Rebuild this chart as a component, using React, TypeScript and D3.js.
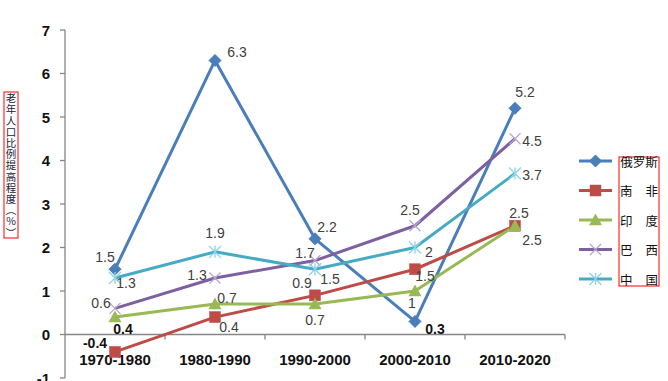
import React from "react";
import * as d3 from "d3";

const categories = ["1970-1980", "1980-1990", "1990-2000", "2000-2010", "2010-2020"];
const seriesNames = ["俄罗斯", "南非", "印度", "巴西", "中国"];
const legendLabels = [["俄罗斯"], ["南", "非"], ["印", "度"], ["巴", "西"], ["中", "国"]];
const russia = [1.5, 6.3, 2.2, 0.3, 5.2];
const southAfrica = [-0.4, 0.4, 0.9, 1.5, 2.5];
const india = [0.4, 0.7, 0.7, 1, 2.5];
const brazil = [0.6, 1.3, 1.7, 2.5, 4.5];
const china = [1.3, 1.9, 1.5, 2, 3.7];
const yTicks = [-1, 0, 1, 2, 3, 4, 5, 6, 7];
const yTitle = "老年人口比例提高程度︵%︶";

const seriesValues = [russia, southAfrica, india, brazil, china];
const colors = ["#4A7EBB", "#BE4B48", "#98B954", "#7D60A0", "#46AAC5"];
const markers = ["diamond", "square", "triangle", "x", "star"];

// label offsets [dx, dy, bold]
const labelOffsets: [number, number, boolean][][] = [
  [[-10, -12, false], [22, -8, false], [12, -12, false], [20, 8, true], [10, -16, false]],
  [[-20, -9, true], [14, 10, false], [-13, -12, false], [10, 7, false], [4, -13, false]],
  [[8, 12, true], [12, -6, false], [0, 16, false], [-3, 12, false], [17, 14, false]],
  [[-14, -5, false], [-18, -3, false], [-10, -8, false], [-5, -16, false], [17, 2, false]],
  [[11, 5, false], [0, -19, false], [15, 10, false], [14, 4, false], [17, 1, false]],
];

function Marker({ type, x, y, color }: { type: string; x: number; y: number; color: string }) {
  if (type === "diamond") {
    const s = 6;
    return <path d={`M${x},${y - s}L${x + s},${y}L${x},${y + s}L${x - s},${y}Z`} fill={color} stroke={color} strokeWidth={1} />;
  }
  if (type === "square") {
    const s = 5.5;
    return <rect x={x - s} y={y - s} width={2 * s} height={2 * s} fill={color} stroke="#c0504d" strokeWidth={0.5} />;
  }
  if (type === "triangle") {
    const s = 6.5;
    return <path d={`M${x},${y - s}L${x + s},${y + s * 0.8}L${x - s},${y + s * 0.8}Z`} fill={color} />;
  }
  if (type === "x") {
    const s = 5.5;
    return (
      <path d={`M${x - s},${y - s}L${x + s},${y + s}M${x - s},${y + s}L${x + s},${y - s}`} stroke="#B8A6D0" strokeWidth={1.3} fill="none" />
    );
  }
  const s = 6;
  return (
    <path
      d={`M${x - s},${y - s}L${x + s},${y + s}M${x - s},${y + s}L${x + s},${y - s}M${x},${y - s}L${x},${y + s}`}
      stroke="#8ED3E6"
      strokeWidth={1.3}
      fill="none"
    />
  );
}

export default function App() {
  const W = 668;
  const H = 381;
  const x = d3.scaleBand<string>().domain(categories).range([65, 565]);
  const y = d3.scaleLinear().domain([-1, 7]).range([378, 30]);
  const cx = (c: string) => (x(c) as number) + x.bandwidth() / 2;
  const line = d3
    .line<number>()
    .x((_, i) => cx(categories[i]))
    .y((d) => y(d));
  const font = "'Liberation Sans', Arial, sans-serif";
  const y0 = y(0);
  const cjk = "'Noto Sans CJK SC', sans-serif";

  return (
    <svg width={W} height={H} style={{ position: "absolute", left: 0, top: 0, background: "#fff" }} fontFamily={font}>
      {/* Y axis */}
      <line x1={65} x2={65} y1={y(7)} y2={y(-1)} stroke="#868686" strokeWidth={1.3} />
      {yTicks.map((t) => (
        <g key={t}>
          <line x1={60} x2={65} y1={y(t)} y2={y(t)} stroke="#868686" strokeWidth={1.3} />
          <text x={50} y={y(t)} textAnchor="end" dominantBaseline="central" fontSize={15} fontWeight="bold" fill="#111">
            {t}
          </text>
        </g>
      ))}
      {/* X axis */}
      <line x1={65} x2={565} y1={y0} y2={y0} stroke="#868686" strokeWidth={1.3} />
      {categories.map((c) => (
        <line key={c} x1={(x(c) as number) + x.bandwidth()} x2={(x(c) as number) + x.bandwidth()} y1={y0} y2={y0 + 5} stroke="#868686" strokeWidth={1.3} />
      ))}
      {categories.map((c) => (
        <text key={c} x={cx(c)} y={359} textAnchor="middle" dominantBaseline="central" fontSize={15} fontWeight="bold" fill="#111">
          {c}
        </text>
      ))}
      {/* Lines */}
      {seriesValues.map((vals, si) => (
        <path key={si} d={line(vals) || ""} fill="none" stroke={colors[si]} strokeWidth={3} strokeLinejoin="round" />
      ))}
      {seriesValues.map((vals, si) =>
        vals.map((v, i) => <Marker key={`${si}-${i}`} type={markers[si]} x={cx(categories[i])} y={y(v)} color={colors[si]} />)
      )}
      {/* Data labels */}
      {seriesValues.map((vals, si) =>
        vals.map((v, i) => {
          const [dx, dy, bold] = labelOffsets[si][i];
          return (
            <text
              key={`l${si}-${i}`}
              x={cx(categories[i]) + dx}
              y={y(v) + dy}
              textAnchor="middle"
              dominantBaseline="central"
              fontSize={14}
              fontWeight={bold ? "bold" : "normal"}
              fill={bold ? "#111" : "#404040"}
            >
              {v}
            </text>
          );
        })
      )}
      {/* Y title */}
      <rect x={4} y={92} width={14} height={146} fill="none" stroke="#FF0000" strokeWidth={1} />
      <text
        x={11}
        y={93}
        fontSize={10.5}
        fill="#1a1a3a"
        fontFamily={cjk}
        style={{ writingMode: "vertical-rl", textOrientation: "upright", letterSpacing: "0.7px" } as React.CSSProperties}
      >
        {yTitle}
      </text>
      {/* Legend */}
      <rect x={619} y={157} width={40} height={129} fill="none" stroke="#FF0000" strokeWidth={1} />
      {seriesNames.map((n, i) => {
        const ly = 161 + i * 29.5;
        const parts = legendLabels[i];
        return (
          <g key={n}>
            <line x1={579} x2={612} y1={ly} y2={ly} stroke={colors[i]} strokeWidth={3} />
            <Marker type={markers[i]} x={595.5} y={ly} color={colors[i]} />
            {parts.length === 1 ? (
              <text x={639} y={ly} textAnchor="middle" dominantBaseline="central" fontSize={12.5} fill="#111" fontFamily={cjk}>
                {parts[0]}
              </text>
            ) : (
              <>
                <text x={620} y={ly} dominantBaseline="central" fontSize={12.5} fill="#111" fontFamily={cjk}>
                  {parts[0]}
                </text>
                <text x={658} y={ly} textAnchor="end" dominantBaseline="central" fontSize={12.5} fill="#111" fontFamily={cjk}>
                  {parts[1]}
                </text>
              </>
            )}
          </g>
        );
      })}
    </svg>
  );
}
